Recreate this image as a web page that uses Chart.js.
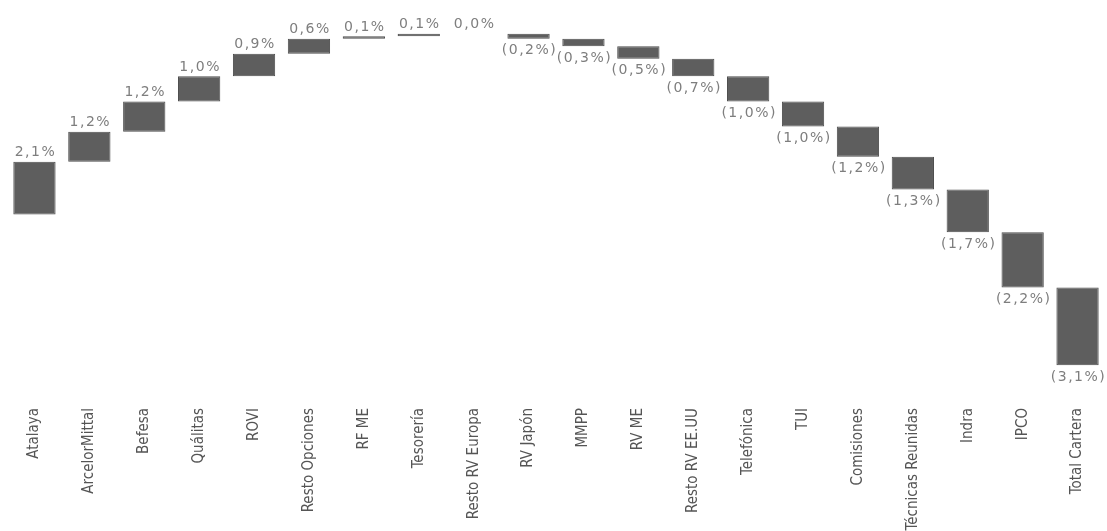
<!DOCTYPE html>
<html>
<head>
<meta charset="utf-8">
<script src="https://cdn.jsdelivr.net/npm/chart.js@4"></script>
<style>
  html, body { margin: 0; padding: 0; background: #fff; }
  #wrap { width: 1107px; height: 531px; }
</style>
</head>
<body>
<div id="wrap"><canvas id="grafico"></canvas></div>
<script>
// categorias y contribuciones (%)
var categorias = ['Atalaya', 'ArcelorMittal', 'Befesa', 'Quálitas', 'ROVI', 'Resto Opciones', 'RF ME',
  'Tesorería', 'Resto RV Europa', 'RV Japón', 'MMPP', 'RV ME', 'Resto RV EE.UU', 'Telefónica', 'TUI',
  'Comisiones', 'Técnicas Reunidas', 'Indra', 'IPCO', 'Total Cartera'];
var contribuciones = [2.1, 1.2, 1.2, 1.0, 0.9, 0.6, 0.1, 0.1, 0.0, -0.2, -0.3, -0.5, -0.7, -1.0, -1.0, -1.2, -1.3, -1.7, -2.2];
var totalCartera = -3.1;

// tramos flotantes [inicio, fin] de la cascada
var tramos = [];
var acumulado = 0;
contribuciones.forEach(function (v) {
  tramos.push([acumulado, acumulado + v]);
  acumulado += v;
});
tramos.push([acumulado, acumulado + totalCartera]);
var valores = contribuciones.concat([totalCartera]);

function formato(v) {
  var txt = Math.abs(v).toFixed(1).replace('.', ',') + '%';
  return v < 0 ? '(' + txt + ')' : txt;
}

// etiquetas encima / debajo de cada barra
var etiquetasPlugin = {
  id: 'etiquetas',
  afterDatasetsDraw: function (chart) {
    var ctx = chart.ctx;
    var meta = chart.getDatasetMeta(0);
    ctx.save();
    ctx.font = '14px "DejaVu Sans", Verdana, sans-serif';
    ctx.letterSpacing = '1.5px';
    ctx.fillStyle = '#7e7e7e';
    ctx.textAlign = 'center';
    meta.data.forEach(function (bar, i) {
      var v = valores[i];
      var arriba = Math.min(bar.y, bar.base);
      var abajo = Math.max(bar.y, bar.base);
      if (v >= 0) {
        ctx.textBaseline = 'bottom';
        ctx.fillText(formato(v), bar.x + 1, arriba - 2);
      } else {
        ctx.textBaseline = 'top';
        ctx.fillText(formato(v), bar.x + 1, abajo + 5);
      }
    });
    ctx.restore();
  }
};

var ctx = document.getElementById('grafico').getContext('2d');
var myChart = new Chart(ctx, {
  type: 'bar',
  data: {
    labels: categorias,
    datasets: [{
      data: tramos,
      backgroundColor: '#5e5e5e',
      borderColor: '#4d4d4d',
      borderWidth: 1,
      borderSkipped: false,
      barPercentage: 0.77,
      categoryPercentage: 1.0
    }]
  },
  options: {
    responsive: true,
    maintainAspectRatio: false,
    animation: false,
    layout: { padding: { left: 7, right: 2, top: 6, bottom: 0 } },
    plugins: {
      legend: { display: false },
      tooltip: { enabled: false }
    },
    scales: {
      x: {
        grid: { display: false },
        border: { display: false },
        ticks: {
          autoSkip: false,
          minRotation: 90,
          maxRotation: 90,
          padding: 2,
          color: '#555555',
          font: { family: '"Liberation Sans Narrow", "DejaVu Sans Condensed", "Roboto Condensed", sans-serif', size: 15 }
        },
        afterFit: function (scale) { scale.height = 133; }
      },
      y: {
        display: false,
        min: -7.3,
        max: 8.3
      }
    }
  },
  plugins: [etiquetasPlugin]
});
</script>
</body>
</html>
